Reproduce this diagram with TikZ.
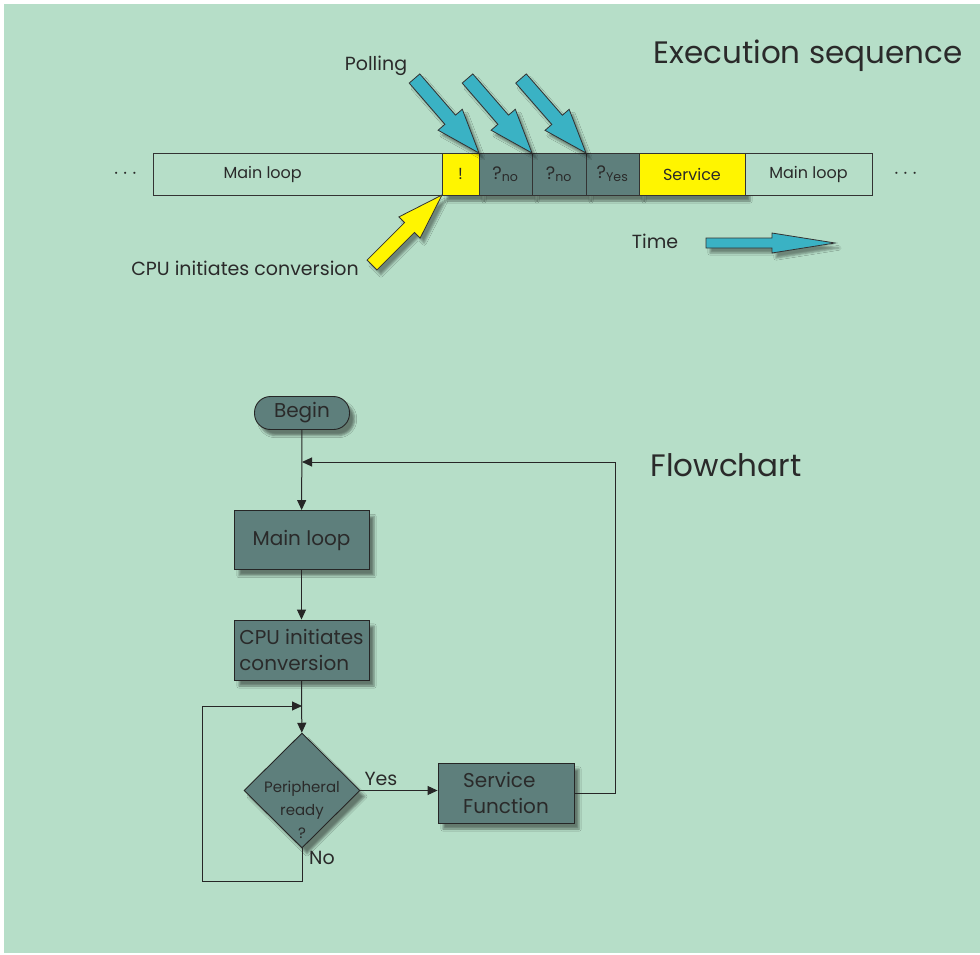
\documentclass[tikz,border=0pt]{standalone}
\usepackage{fontspec}
\setmainfont{Poppins}
\usepackage{xcolor}
\usetikzlibrary{arrows.meta, positioning, calc, shapes.geometric, shadows, shadows.blur}

\definecolor{bggreen}{HTML}{B6DEC8}
\definecolor{slotgray}{HTML}{5E7F7C}
\definecolor{hotyellow}{HTML}{FFF500}
\definecolor{pollcyan}{HTML}{3AB2C4}
\definecolor{inkgray}{HTML}{2A2A2A}

% fat arrow: tail, tip, shaft half width, head half width, head length, fill
\newcommand{\fatarrow}[6]{%
  \filldraw[fill=#6, draw=black!80, line width=0.8pt, line join=miter,
    blur shadow={shadow xshift=4pt, shadow yshift=-5pt, shadow opacity=40}]
    ($(#1)!#3!90:(#2)$)
    -- ($($(#2)!#5!(#1)$)!#3!-90:(#1)$)
    -- ($($(#2)!#5!(#1)$)!#4!-90:(#1)$)
    -- (#2)
    -- ($($(#2)!#5!(#1)$)!#4!90:(#1)$)
    -- ($($(#2)!#5!(#1)$)!#3!90:(#1)$)
    -- ($(#1)!#3!-90:(#2)$) -- cycle;}

\begin{document}
\begin{tikzpicture}[x=1pt, y=-1pt,
  every node/.style={text=inkgray},
  seg/.style={draw=black!80, line width=0.8pt, minimum height=42pt, inner sep=0pt,
              outer sep=0pt, font=\fontsize{16}{18}\selectfont},
  calm/.style={seg, fill=bggreen},
  hot/.style={seg, fill=hotyellow,
              blur shadow={shadow xshift=5pt, shadow yshift=-6pt, shadow opacity=45}},
  slot/.style={seg, fill=slotgray, font=\fontsize{18}{20}\selectfont,
               blur shadow={shadow xshift=5pt, shadow yshift=-6pt, shadow opacity=45}},
  fbox/.style={draw=black!85, line width=0.9pt, fill=slotgray, inner sep=0pt,
               minimum width=135pt, minimum height=59pt, align=left,
               font=\fontsize{20}{26}\selectfont,
               blur shadow={shadow xshift=5pt, shadow yshift=-6pt, shadow opacity=45}},
  flow/.style={draw=black!85, line width=1pt, -{Triangle[length=10pt, width=9pt]}},
  lbl/.style={font=\fontsize{19}{22}\selectfont},
  heading/.style={font=\fontsize{31}{34}\selectfont}]

  \useasboundingbox (0,0) rectangle (980,955);
  \fill[white] (0,0) rectangle (980,955);
  \fill[bggreen] (4,4) rectangle (980,953);

  % execution sequence
  \node[heading] (seqtitle) at (808,56) {Execution sequence};
  \node[calm, minimum width=289pt] (ml1) at (297.5,174)
        {\makebox[148pt][l]{Main loop}};
  \node[hot, minimum width=37pt, right=0pt of ml1] (excl) {!};
  \node[slot, minimum width=53pt, right=0pt of excl] (q1) {?\textsubscript{no}};
  \node[slot, minimum width=54pt, right=0pt of q1] (q2) {?\textsubscript{no}};
  \node[slot, minimum width=53pt, right=0pt of q2] (q3) {?\textsubscript{Yes}};
  \node[hot, minimum width=106pt, right=0pt of q3] (serv) {Service};
  \node[calm, minimum width=127pt, right=0pt of serv] (ml2) {Main loop};
  \node[font=\fontsize{22}{24}\selectfont, left=12pt of ml1] (dotsl) {$\cdots$};
  \node[font=\fontsize{22}{24}\selectfont, right=18pt of ml2] (dotsr) {$\cdots$};

  \node[lbl] (polling) at (376,66) {Polling};
  \coordinate (p1) at (414.5,78.5);
  \coordinate (p2) at (467.5,78.5);
  \coordinate (p3) at (521,78.5);
  \fatarrow{p1}{excl.north east}{7pt}{16pt}{44pt}{pollcyan}
  \fatarrow{p2}{q1.north east}{7pt}{16pt}{44pt}{pollcyan}
  \fatarrow{p3}{q2.north east}{7pt}{16pt}{44pt}{pollcyan}

  \node[lbl] (cpulabel) at (245,268) {CPU initiates conversion};
  \coordinate (c1) at (372,265);
  \fatarrow{c1}{excl.south west}{7pt}{15pt}{46pt}{hotyellow}

  \node[lbl] (timelabel) at (655,241) {Time};
  \coordinate (t1) at (706,243);
  \coordinate (t2) at (835,243);
  \fatarrow{t1}{t2}{5pt}{10pt}{63pt}{pollcyan}

  % flowchart
  \node[heading] (flowtitle) at (726,465) {Flowchart};
  \node[draw=black!85, line width=0.9pt, fill=slotgray, rounded corners=16pt,
        minimum width=95pt, minimum height=33pt, inner sep=0pt,
        font=\fontsize{20}{22}\selectfont,
        blur shadow={shadow xshift=5pt, shadow yshift=-6pt, shadow opacity=45}]
        (begin) at (302,413) {Begin};
  \node[fbox] (mainbox) at (301.5,540) {Main loop};
  \node[fbox, minimum height=60pt] (cpubox) at (301.5,650) {CPU initiates\\conversion};
  \node[diamond, draw=black!85, line width=0.9pt, fill=slotgray,
        minimum width=116pt, minimum height=115pt, inner sep=0pt,
        blur shadow={shadow xshift=5pt, shadow yshift=-6pt, shadow opacity=45}]
        (ready) at (302,790.5) {};
  \node[font=\fontsize{15}{23}\selectfont, align=center] (readytext) at (302,810)
        {Peripheral\\ready\\?};
  \node[fbox, minimum width=136pt, minimum height=60pt] (service) at (506,793)
        {Service\\Function};

  \coordinate (backin) at (302,462);
  \coordinate (loopin) at (302,706);
  \draw[flow] (begin) -- (mainbox);
  \draw[flow] (mainbox) -- (cpubox);
  \draw[flow] (cpubox) -- (ready);
  \draw[flow] (ready.east) -- (ready.east -| service.west);
  \draw[flow] (service.east) -| (615,462) -- (backin);
  \draw[flow] (ready.south) |- (202,881) |- (loopin);
  \node[lbl] (yes) at (381,779) {Yes};
  \node[lbl] (no) at (322,858) {No};
\end{tikzpicture}
\end{document}
